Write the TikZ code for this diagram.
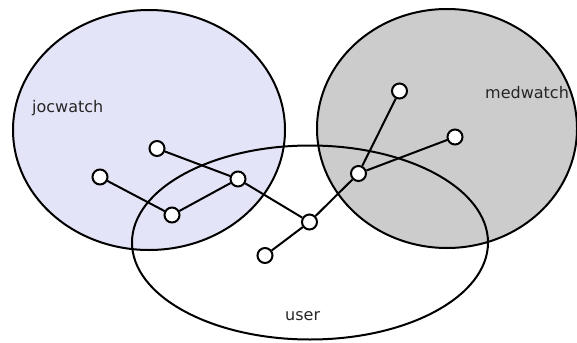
\documentclass[tikz,border=0pt]{standalone}
\usepackage{fontspec}
\setmainfont{DejaVu Sans}
\begin{document}
\begin{tikzpicture}[x=1pt,y=-1pt,
  setline/.style={line width=2pt},
  vtx/.style={circle,draw,fill=white,line width=2pt,minimum size=15pt,inner sep=0pt},
  link/.style={line width=2pt},
  setlabel/.style={anchor=base west,inner sep=0pt,text=black!85,font=\fontsize{16}{19}\selectfont}]
\useasboundingbox (0,0) rectangle (577,342);
% set fills
\fill[fill={rgb,255:red,228;green,228;blue,248}] (149,130) ellipse [x radius=136,y radius=120];
\fill[fill={rgb,255:red,204;green,204;blue,204}] (447,128.5) ellipse [x radius=130,y radius=119.5];
% set outlines
\draw[setline] (149,130) ellipse [x radius=136,y radius=120];
\draw[setline] (447,128.5) ellipse [x radius=130,y radius=119.5];
\draw[setline] (310,242.5) ellipse [x radius=178,y radius=97];
% set labels
\node[setlabel] (ljoc) at (32,112) {jocwatch};
\node[setlabel] (lmed) at (485,99) {medwatch};
\node[setlabel] (lusr) at (285,320) {user};
% tree vertices
\node[vtx] (a) at (100,177) {};
\node[vtx] (b) at (157,148.5) {};
\node[vtx] (c) at (172,215) {};
\node[vtx] (d) at (238,179) {};
\node[vtx] (e) at (309.5,222) {};
\node[vtx] (f) at (265,255.5) {};
\node[vtx] (g) at (358.5,173.5) {};
\node[vtx] (h) at (399.5,91) {};
\node[vtx] (i) at (455,137) {};
% tree edges
\draw[link] (a) -- (c);
\draw[link] (c) -- (d);
\draw[link] (b) -- (d);
\draw[link] (d) -- (e);
\draw[link] (f) -- (e);
\draw[link] (e) -- (g);
\draw[link] (g) -- (h);
\draw[link] (g) -- (i);
\end{tikzpicture}
\end{document}
